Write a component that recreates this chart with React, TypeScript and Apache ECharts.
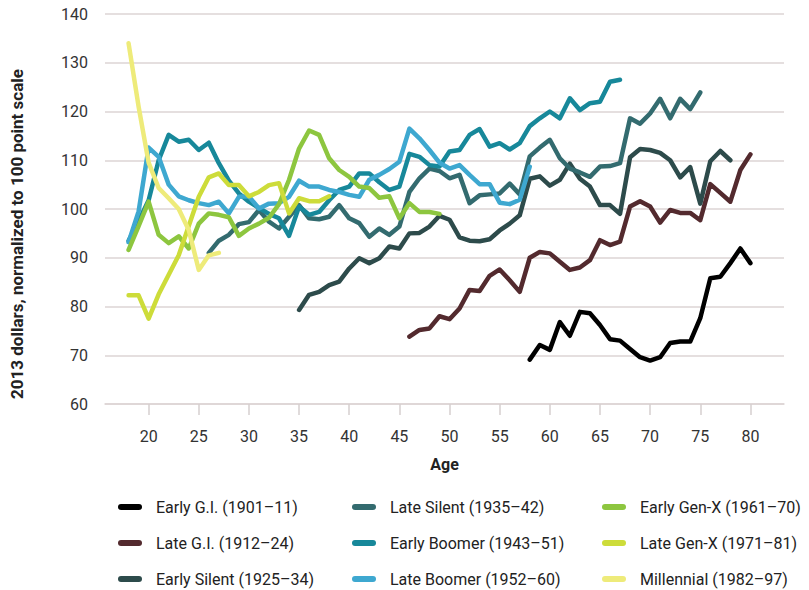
import React, { useEffect, useRef } from "react";
import * as echarts from "echarts";

// ---- Data ----
const seriesNames = [
  "Early G.I. (1901–11)",
  "Late G.I. (1912–24)",
  "Early Silent (1925–34)",
  "Late Silent (1935–42)",
  "Early Boomer (1943–51)",
  "Late Boomer (1952–60)",
  "Early Gen-X (1961–70)",
  "Late Gen-X (1971–81)",
  "Millennial (1982–97)",
];

const startAges = [58, 46, 35, 26, 18, 18, 18, 18, 18];

const earlyGI = [69.1, 72.1, 71.1, 76.8, 74.0, 78.9, 78.6, 76.2, 73.3, 73.0, 71.3, 69.6, 68.9, 69.6, 72.5, 72.8, 72.8, 77.6, 85.8, 86.1, 88.9, 91.9, 88.9];
const lateGI = [73.8, 75.2, 75.5, 78.0, 77.4, 79.6, 83.4, 83.2, 86.3, 87.6, 85.4, 83.0, 90.0, 91.2, 90.9, 89.2, 87.5, 88.0, 89.5, 93.6, 92.6, 93.3, 100.5, 101.6, 100.5, 97.2, 99.8, 99.2, 99.2, 97.7, 105.1, 103.3, 101.5, 108.0, 111.2];
const earlySilent = [79.3, 82.4, 83.0, 84.4, 85.1, 87.8, 89.9, 88.9, 89.9, 92.3, 91.9, 95.0, 95.1, 96.4, 98.6, 97.8, 94.2, 93.5, 93.4, 93.8, 95.6, 97.0, 98.7, 106.2, 106.7, 104.8, 106.0, 109.3, 106.2, 104.6, 100.8, 100.8, 99.0, 110.6, 112.3, 112.1, 111.5, 110.0, 106.5, 108.6, 101.1, 109.8, 111.9, 110.0];
const lateSilent = [91.0, 93.5, 94.7, 96.9, 97.3, 99.8, 97.4, 96.0, 98.4, 100.8, 98.1, 97.9, 98.4, 100.8, 98.1, 97.1, 94.3, 96.0, 94.7, 96.4, 103.5, 106.3, 108.3, 107.8, 106.3, 107.0, 101.2, 102.8, 103.0, 103.2, 105.2, 103.0, 110.8, 112.6, 114.2, 110.4, 108.3, 107.5, 106.6, 108.7, 108.8, 109.4, 118.6, 117.5, 119.6, 122.6, 118.6, 122.6, 120.5, 123.9];
const earlyBoomer = [93.5, 97.5, 101.8, 110.0, 115.2, 113.8, 114.2, 112.1, 113.6, 109.4, 105.8, 103.2, 101.5, 100.2, 99.0, 98.1, 94.5, 100.5, 98.8, 99.4, 101.8, 103.9, 104.6, 107.3, 107.3, 105.5, 103.9, 104.6, 111.3, 110.7, 109.0, 108.7, 111.8, 112.1, 115.2, 116.4, 112.8, 113.5, 112.2, 113.5, 117.0, 118.6, 120.0, 118.6, 122.7, 120.3, 121.7, 122.0, 126.1, 126.5];
const lateBoomer = [93.2, 99.5, 112.6, 110.7, 105.0, 102.6, 101.8, 101.2, 100.8, 101.5, 99.1, 102.5, 102.6, 100.1, 101.1, 101.2, 102.5, 105.8, 104.6, 104.6, 103.9, 103.5, 102.9, 102.5, 106.0, 107.0, 108.2, 109.7, 116.5, 114.5, 112.1, 109.5, 108.3, 109.0, 107.0, 105.1, 105.1, 101.3, 101.0, 101.9, 108.7];
const earlyGenX = [91.6, 96.5, 101.5, 94.7, 93.0, 94.4, 91.9, 97.0, 99.1, 98.8, 98.3, 94.5, 96.0, 97.0, 98.2, 101.0, 106.0, 112.4, 116.1, 115.2, 110.4, 108.0, 106.6, 104.6, 104.3, 102.3, 102.6, 98.1, 101.2, 99.4, 99.4, 99.0];
const lateGenX = [82.3, 82.3, 77.5, 82.5, 86.5, 90.5, 96.5, 102.5, 106.5, 107.3, 104.9, 104.9, 102.6, 103.5, 104.9, 105.3, 99.1, 102.2, 101.6, 101.6, 102.6];
const millennial = [134.0, 121.0, 109.5, 104.3, 102.2, 100.0, 95.7, 87.5, 90.5, 91.0];

const seriesValues = [earlyGI, lateGI, earlySilent, lateSilent, earlyBoomer, lateBoomer, earlyGenX, lateGenX, millennial];

const ageTicks = [20, 25, 30, 35, 40, 45, 50, 55, 60, 65, 70, 75, 80];
const yTicks = { min: 60, max: 140, step: 10 };

// ---- Styles ----
const colors = ["#000000", "#532a2e", "#2d4b4b", "#336b6f", "#17889a", "#3ea8d0", "#8dc63f", "#cddc3a", "#eeeb7a"];
const FONT = "Roboto, 'DejaVu Sans', sans-serif";
const ICON = "path://M3 0H21A3 3 0 0 1 21 6H3A3 3 0 0 1 3 0Z";

export default function App() {
  const ref = useRef<HTMLDivElement>(null);

  useEffect(() => {
    if (!ref.current) return;
    const chart = echarts.init(ref.current, null, { renderer: "svg" });

    const series = seriesNames.map((name, i) => ({
      name,
      type: "line",
      data: seriesValues[i].map((v, k) => [startAges[i] + k, v]),
      showSymbol: false,
      symbol: "none",
      color: colors[i],
      lineStyle: { width: 4.5, color: colors[i], cap: "round", join: "round" },
      emphasis: { disabled: true },
      z: 2 + i,
    }));

    const legendBase = {
      orient: "vertical",
      top: 497,
      height: 130,
      padding: 0,
      itemWidth: 24,
      itemHeight: 6,
      itemGap: 16,
      icon: ICON,
      selectedMode: false,
      textStyle: { fontFamily: FONT, fontSize: 16, lineHeight: 20, color: "#222", padding: [0, 0, 0, 9] },
    };

    chart.setOption({
      animation: false,
      textStyle: { fontFamily: FONT },
      grid: { left: 104, right: 25, top: 14, bottom: 186, containLabel: false },
      xAxis: {
        type: "value",
        min: 15.65,
        max: 83.35,
        name: "Age",
        nameLocation: "middle",
        nameGap: 52,
        nameTextStyle: { fontFamily: FONT, fontSize: 16, fontWeight: "bold", color: "#222" },
        axisLine: { show: true, lineStyle: { color: "#ddd5d5", width: 1.5 } },
        axisTick: { show: true, length: 11, lineStyle: { color: "#d6cfcf", width: 1.5 }, customValues: ageTicks },
        axisLabel: { customValues: ageTicks, margin: 24, fontSize: 16, color: "#333", fontFamily: FONT },
        splitLine: { show: false },
      },
      yAxis: {
        type: "value",
        min: yTicks.min,
        max: yTicks.max,
        interval: yTicks.step,
        name: "2013 dollars, normalized to 100 point scale",
        nameLocation: "middle",
        nameGap: 80,
        nameTextStyle: {
          fontFamily: FONT,
          fontSize: 17,
          fontWeight: "bold",
          color: "#222",
          padding: [0, 50, 0, 0],
        },
        axisLine: { show: false },
        axisTick: { show: false },
        axisLabel: { margin: 17, fontSize: 16, color: "#333", fontFamily: FONT },
        splitLine: { lineStyle: { color: "#ddd5d5", width: 1.5 } },
      },
      legend: [
        { ...legendBase, left: 118, data: seriesNames.slice(0, 3) },
        { ...legendBase, left: 352, data: seriesNames.slice(3, 6) },
        { ...legendBase, left: 602, data: seriesNames.slice(6, 9) },
      ],
      series,
    });

    return () => chart.dispose();
  }, []);

  return (
    <div
      ref={ref}
      style={{ position: "absolute", left: 0, top: 0, width: 809, height: 590 }}
    />
  );
}
